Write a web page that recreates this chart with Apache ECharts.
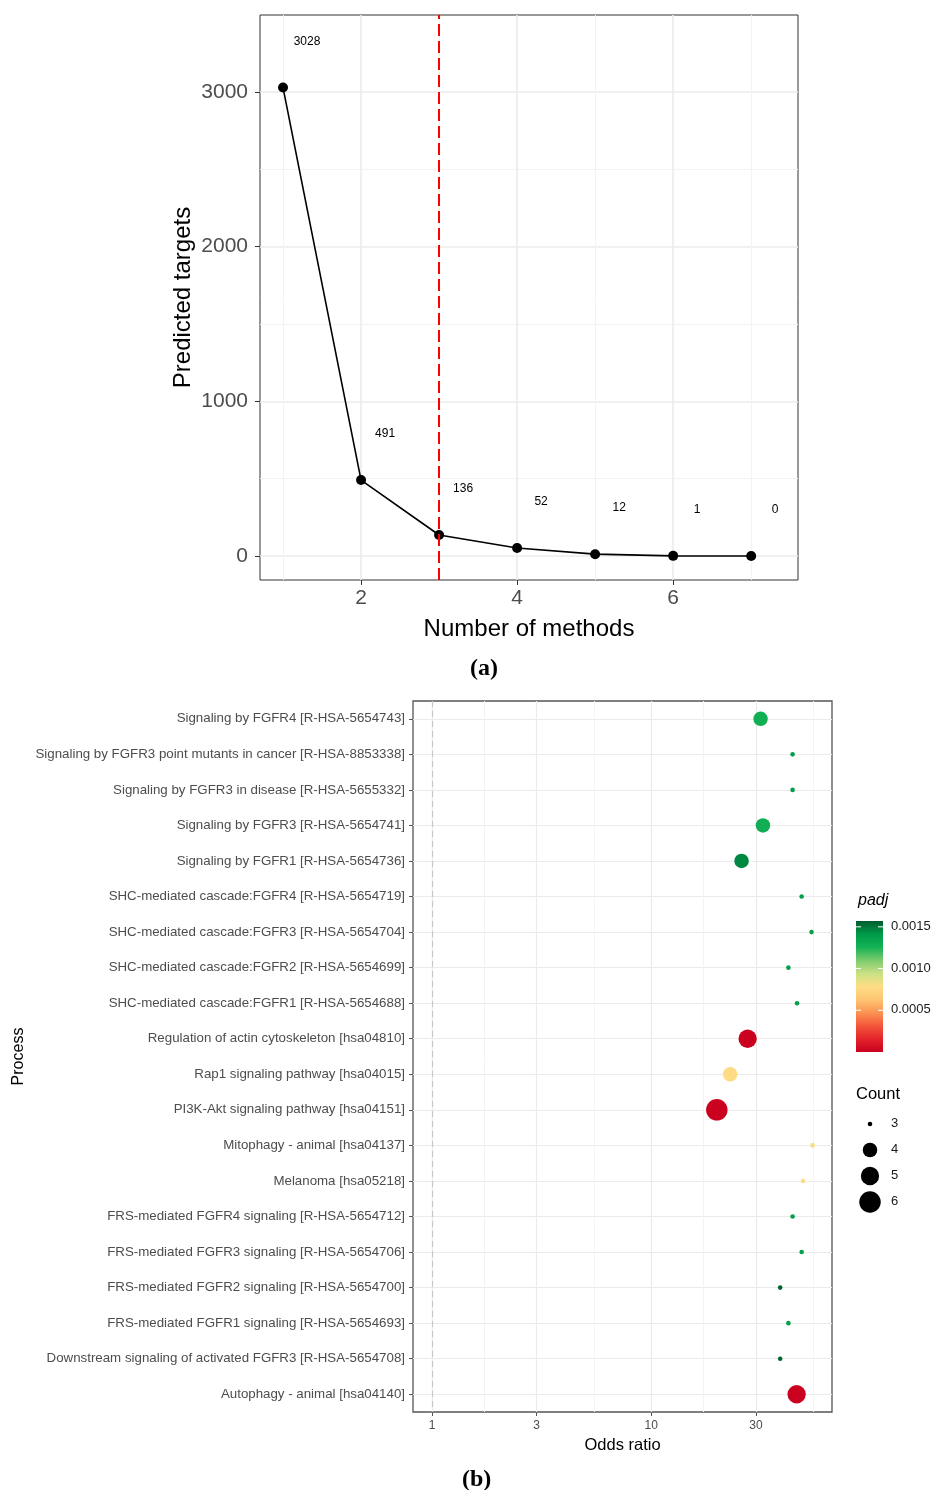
<!DOCTYPE html>
<html>
<head>
<meta charset="utf-8">
<script src="https://cdn.jsdelivr.net/npm/echarts@6/dist/echarts.min.js"></script>
<style>
html,body{margin:0;padding:0;background:#fff;}
#c{width:934px;height:1490px;}
</style>
</head>
<body>
<div id="c"></div>
<script>
// ---------- Panel (a) data ----------
const methodCounts = [1, 2, 3, 4, 5, 6, 7];
const predictedTargets = [3028, 491, 136, 52, 12, 1, 0];
const aXTicks = [2, 4, 6];
const aXMinor = [1, 3, 5, 7];
const aYTicks = [0, 1000, 2000, 3000];
const aYMinor = [500, 1500, 2500];
const cutoffMethods = 3;

// ---------- Panel (b) data ----------
const processes = [
  "Signaling by FGFR4 [R-HSA-5654743]",
  "Signaling by FGFR3 point mutants in cancer [R-HSA-8853338]",
  "Signaling by FGFR3 in disease [R-HSA-5655332]",
  "Signaling by FGFR3 [R-HSA-5654741]",
  "Signaling by FGFR1 [R-HSA-5654736]",
  "SHC-mediated cascade:FGFR4 [R-HSA-5654719]",
  "SHC-mediated cascade:FGFR3 [R-HSA-5654704]",
  "SHC-mediated cascade:FGFR2 [R-HSA-5654699]",
  "SHC-mediated cascade:FGFR1 [R-HSA-5654688]",
  "Regulation of actin cytoskeleton [hsa04810]",
  "Rap1 signaling pathway [hsa04015]",
  "PI3K-Akt signaling pathway [hsa04151]",
  "Mitophagy - animal [hsa04137]",
  "Melanoma [hsa05218]",
  "FRS-mediated FGFR4 signaling [R-HSA-5654712]",
  "FRS-mediated FGFR3 signaling [R-HSA-5654706]",
  "FRS-mediated FGFR2 signaling [R-HSA-5654700]",
  "FRS-mediated FGFR1 signaling [R-HSA-5654693]",
  "Downstream signaling of activated FGFR3 [R-HSA-5654708]",
  "Autophagy - animal [hsa04140]"
];
const oddsRatio = [31.5, 44.1, 44.1, 32.3, 25.8, 48.5, 53.8, 42.2, 46.2, 27.5, 22.9, 19.9, 54.4, 49.2, 44.1, 48.5, 38.7, 42.2, 38.7, 46.0];
const geneCount = [4, 3, 3, 4, 4, 3, 3, 3, 3, 5, 4, 6, 3, 3, 3, 3, 3, 3, 3, 5];
const padj = [0.00128, 0.00138, 0.00138, 0.00128, 0.00146, 0.00138, 0.00138, 0.00138, 0.00138, 0.00001, 0.00078, 0.00001, 0.00080, 0.00078, 0.00138, 0.00138, 0.00155, 0.00138, 0.00155, 0.00001];
const orTicks = [1, 3, 10, 30];
const padjTicks = [0.0005, 0.0010, 0.0015];
const countLevels = [3, 4, 5, 6];
const padjRange = [0, 0.00157];

// ---------- styles ----------
const FONT = "'Liberation Sans', Arial, Helvetica, sans-serif";
const SIZE_BY_COUNT = {3: 4.6, 4: 14.5, 5: 18.3, 6: 21.5};
const PADJ_COLORS = ['#C8001E','#E3242A','#F4563A','#FB9353','#FEC572','#FEDD84','#C9E184','#7DCB6D','#14B256','#009A48','#005C2F'];
const GRID_MAJOR = '#EBEBEB';
const GRID_MINOR = '#F3F3F3';

const lg = v => Math.log10(v);
const orMin = lg(0.819), orMax = lg(66.7);
const orMinor = [];
for (let i = 0; i < orTicks.length; i++) {
  const next = i + 1 < orTicks.length ? orTicks[i + 1] : orTicks[i] * 10 / 3;
  orMinor.push((lg(orTicks[i]) + lg(next)) / 2);
}

const chart = echarts.init(document.getElementById('c'), null, {renderer: 'canvas'});

// colorbar geometry (legend)
const cb = {x: 856, y: 921, w: 27, h: 131};
const cbY = v => cb.y + cb.h - (v - padjRange[0]) / (padjRange[1] - padjRange[0]) * cb.h;
const gradStops = PADJ_COLORS.map((c, i) => ({offset: 1 - i / (PADJ_COLORS.length - 1), color: c}));

const graphics = [
  {type: 'text', left: 470, top: 657, style: {text: '(a)', font: "bold 24px 'Liberation Serif', 'DejaVu Serif', serif", fill: '#000'}},
  {type: 'text', left: 462, top: 1468, style: {text: '(b)', font: "bold 24px 'Liberation Serif', 'DejaVu Serif', serif", fill: '#000'}},
  {type: 'text', left: 858, top: 893, style: {text: 'padj', font: "italic 16px " + FONT, fill: '#000'}},
  {type: 'rect', shape: {x: cb.x, y: cb.y, width: cb.w, height: cb.h},
   style: {fill: new echarts.graphic.LinearGradient(0, 0, 0, 1, gradStops)}},
  {type: 'text', left: 856, top: 1086, style: {text: 'Count', font: "16.5px " + FONT, fill: '#000'}}
];
padjTicks.forEach(v => {
  const y = cbY(v);
  graphics.push({type: 'line', shape: {x1: cb.x, y1: y, x2: cb.x + 5, y2: y}, style: {stroke: '#fff', lineWidth: 1}});
  graphics.push({type: 'line', shape: {x1: cb.x + cb.w - 5, y1: y, x2: cb.x + cb.w, y2: y}, style: {stroke: '#fff', lineWidth: 1}});
  graphics.push({type: 'text', left: 891, top: y - 7, style: {text: v.toFixed(4), font: "13px " + FONT, fill: '#1A1A1A'}});
});
countLevels.forEach((c, i) => {
  const y = 1124 + i * 26;
  graphics.push({type: 'circle', shape: {cx: 870, cy: y, r: SIZE_BY_COUNT[c] / 2}, style: {fill: '#000'}});
  graphics.push({type: 'text', left: 891, top: y - 7, style: {text: String(c), font: "13px " + FONT, fill: '#1A1A1A'}});
});

const option = {
  backgroundColor: '#fff',
  animation: false,
  textStyle: {fontFamily: FONT},
  grid: [
    {left: 260, top: 15, right: 136, bottom: 910, show: true, borderColor: '#333333', borderWidth: 1, backgroundColor: 'transparent', containLabel: false, outerBoundsMode: 'none'},
    {left: 413, top: 701, right: 102, bottom: 78, show: true, borderColor: '#555555', borderWidth: 1.3, backgroundColor: 'transparent', containLabel: false, outerBoundsMode: 'none'}
  ],
  xAxis: [
    {type: 'value', gridIndex: 0, min: 0.705, max: 7.6, position: 'bottom',
     name: 'Number of methods', nameLocation: 'middle', nameGap: 37, nameMoveOverlap: false,
     nameTextStyle: {fontSize: 24, color: '#000', fontFamily: FONT},
     axisLine: {show: false, onZero: false},
     axisTick: {show: true, customValues: aXTicks, length: 5, lineStyle: {color: '#333', width: 1}},
     axisLabel: {customValues: aXTicks, fontSize: 21, color: '#4D4D4D', margin: 8, fontFamily: FONT,
                 formatter: v => String(v)},
     splitLine: {show: true, lineStyle: {color: GRID_MAJOR, width: 1.6}}},
    {type: 'value', gridIndex: 0, min: 0.705, max: 7.6, position: 'bottom',
     axisLine: {show: false, onZero: false}, axisTick: {show: false, customValues: aXMinor}, axisLabel: {show: false, customValues: aXMinor},
     splitLine: {show: true, lineStyle: {color: GRID_MINOR, width: 1}}},
    {type: 'value', gridIndex: 1, min: orMin, max: orMax, position: 'bottom',
     name: 'Odds ratio', nameLocation: 'middle', nameGap: 25, nameMoveOverlap: false,
     nameTextStyle: {fontSize: 16.5, color: '#000', fontFamily: FONT},
     axisLine: {show: false, onZero: false},
     axisTick: {show: true, customValues: orTicks.map(lg), length: 4, lineStyle: {color: '#555', width: 1}},
     axisLabel: {customValues: orTicks.map(lg), fontSize: 12, color: '#4D4D4D', margin: 8, fontFamily: FONT,
                 formatter: v => String(Math.round(Math.pow(10, v)))},
     splitLine: {show: true, lineStyle: {color: GRID_MAJOR, width: 1.2}}},
    {type: 'value', gridIndex: 1, min: orMin, max: orMax, position: 'bottom',
     axisLine: {show: false, onZero: false}, axisTick: {show: false, customValues: orMinor}, axisLabel: {show: false, customValues: orMinor},
     splitLine: {show: true, lineStyle: {color: GRID_MINOR, width: 1}}}
  ],
  yAxis: [
    {type: 'value', gridIndex: 0, min: -155, max: 3497,
     name: 'Predicted targets', nameLocation: 'middle', nameGap: 65, nameRotate: 90, nameMoveOverlap: false,
     nameTextStyle: {fontSize: 24, color: '#000', fontFamily: FONT},
     axisLine: {show: false, onZero: false},
     axisTick: {show: true, customValues: aYTicks, length: 5, lineStyle: {color: '#333', width: 1}},
     axisLabel: {customValues: aYTicks, fontSize: 21, color: '#4D4D4D', margin: 12, fontFamily: FONT,
                 formatter: v => String(v)},
     splitLine: {show: true, lineStyle: {color: GRID_MAJOR, width: 1.6}}},
    {type: 'value', gridIndex: 0, min: -155, max: 3497,
     axisLine: {show: false, onZero: false}, axisTick: {show: false, customValues: aYMinor}, axisLabel: {show: false, customValues: aYMinor},
     splitLine: {show: true, lineStyle: {color: GRID_MINOR, width: 1}}},
    {type: 'category', gridIndex: 1, data: processes, inverse: true, boundaryGap: true,
     name: 'Process', nameLocation: 'middle', nameGap: 386, nameRotate: 90, nameMoveOverlap: false,
     nameTextStyle: {fontSize: 16, color: '#000', fontFamily: FONT},
     axisLine: {show: false, onZero: false},
     axisTick: {show: true, alignWithLabel: true, length: 4, lineStyle: {color: '#555', width: 1}},
     axisLabel: {fontSize: 13.3, color: '#4D4D4D', margin: 8, fontFamily: FONT, interval: 0},
     splitLine: {show: true, alignWithLabel: true, interval: 0, lineStyle: {color: GRID_MAJOR, width: 1.2}}}
  ],
  visualMap: [
    {type: 'continuous', show: false, seriesIndex: 1, dimension: 3,
     min: padjRange[0], max: padjRange[1], inRange: {color: PADJ_COLORS}}
  ],
  series: [
    {type: 'line', xAxisIndex: 0, yAxisIndex: 0,
     data: methodCounts.map((m, i) => [m, predictedTargets[i]]),
     symbol: 'circle', symbolSize: 10,
     itemStyle: {color: '#000'},
     lineStyle: {color: '#000', width: 1.6},
     label: {show: true, position: 'inside', offset: [24, -46], fontSize: 12, color: '#000', fontFamily: FONT,
             formatter: p => String(p.value[1])},
     markLine: {silent: true, symbol: ['none', 'none'], label: {show: false},
                lineStyle: {color: '#FF0000', type: [12, 5], width: 2},
                data: [{xAxis: cutoffMethods}]},
     z: 3},
    {type: 'scatter', xAxisIndex: 2, yAxisIndex: 2,
     data: processes.map((p, i) => [lg(oddsRatio[i]), p, geneCount[i], padj[i]]),
     encode: {x: 0, y: 1},
     symbol: 'circle',
     symbolSize: v => SIZE_BY_COUNT[v[2]],
     itemStyle: {opacity: 1},
     markLine: {silent: true, symbol: ['none', 'none'], label: {show: false},
                lineStyle: {color: '#C8C8C8', type: [6, 4], width: 1.2},
                data: [{xAxis: lg(1)}]},
     z: 3}
  ],
  graphic: graphics
};
chart.setOption(option);
</script>
</body>
</html>
